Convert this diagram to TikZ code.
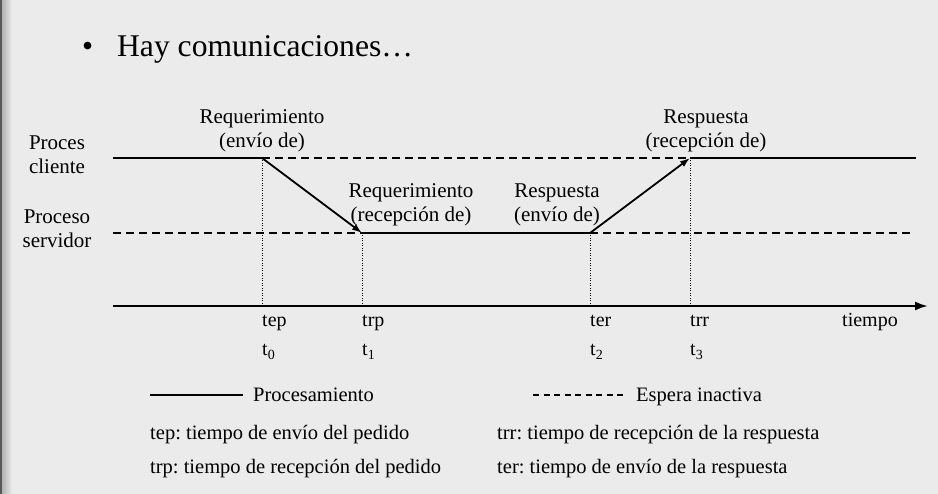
\documentclass[tikz,border=0pt]{standalone}
\usepackage{fontspec}
\setmainfont{Liberation Serif}
\frenchspacing
\usetikzlibrary{arrows.meta}
\definecolor{slidebg}{RGB}{235,235,235}

\begin{document}
\begin{tikzpicture}[x=1pt,y=-1pt,
        proc/.style={line width=1.8pt},
        idle/.style={line width=1.3pt,dash pattern=on 8pt off 5pt},
        guia/.style={line width=0.9pt,dash pattern=on 1pt off 1.5pt},
        msg/.style={line width=1.8pt,-{Latex[length=10pt,width=7pt]}},
        eje/.style={line width=2.2pt,-{Latex[length=13pt,width=9pt]}},
        lbl/.style={align=center,inner sep=0pt,font=\fontsize{21}{24}\selectfont},
        tick/.style={anchor=base west,inner sep=0pt,font=\fontsize{20}{24}\selectfont},
        leyenda/.style={anchor=base west,inner sep=0pt,font=\fontsize{20.5}{24}\selectfont}]
            % fondo de la diapositiva
            \fill [slidebg] (0,0) rectangle (938,494);
            \shade [left color=gray!60, right color=slidebg] (2,0) rectangle (12,494);
            \fill [gray!70!black] (0,0) rectangle (2,494);
            \useasboundingbox (0,0) rectangle (938,494);

            \node [anchor=base west,inner sep=0pt,font=\fontsize{31.6}{38}\selectfont] (titulo) at (82,57) {\makebox[35pt][l]{•}Hay comunicaciones…};

            \node [lbl,anchor=south] (cliente) at (57,174) {Proces\\cliente};
            \node [lbl,anchor=south] (servidor) at (57,248) {Proceso\\servidor};

            \coordinate (cliIni) at (113,158);
            \coordinate (cliFin) at (916,158);
            \coordinate (srvIni) at (113,233);
            \coordinate (srvFin) at (912,233);
            \coordinate (tep) at (262,158);
            \coordinate (trp) at (362,233);
            \coordinate (ter) at (590,233);
            \coordinate (trr) at (690,158);
            \coordinate (ejeIni) at (113,306);
            \coordinate (ejeFin) at (928,306);

            \node [lbl,anchor=south] (reqEnv) at (262,152) {Requerimiento\\(envío de)};
            \node [lbl,anchor=south] (reqRec) at (411,226) {Requerimiento\\(recepción de)};
            \node [lbl,anchor=south] (resEnv) at (557,226) {Respuesta\\(envío de)};
            \node [lbl,anchor=south] (resRec) at (706,152) {Respuesta\\(recepción de)};

            \draw [proc] (cliIni) -- (tep);
            \draw [idle] (tep) -- (trr);
            \draw [proc] (trr) -- (cliFin);
            \draw [idle] (srvIni) -- (trp);
            \draw [proc] (trp) -- (ter);
            \draw [idle] (ter) -- (srvFin);
            \draw [msg] (tep) -- (trp);
            \draw [msg] (ter) -- (trr);
            \draw [guia] (tep) -- (tep |- ejeIni);
            \draw [guia] (trp) -- (trp |- ejeIni);
            \draw [guia] (ter) -- (ter |- ejeIni);
            \draw [guia] (trr) -- (trr |- ejeIni);
            \draw [eje] (ejeIni) -- (ejeFin);

            \node [tick] (nomTep) at (262,327) {tep};
            \node [tick] (nomTrp) at (362,327) {trp};
            \node [tick] (nomTer) at (590,327) {ter};
            \node [tick] (nomTrr) at (690,327) {trr};
            \node [tick] (tiempo) at (842,327) {tiempo};
            \node [tick] (t0) at (262,356) {t\textsubscript{0}};
            \node [tick] (t1) at (362,356) {t\textsubscript{1}};
            \node [tick] (t2) at (590,356) {t\textsubscript{2}};
            \node [tick] (t3) at (690,356) {t\textsubscript{3}};

            % leyenda
            \coordinate (procIni) at (150,395);
            \coordinate (procFin) at (243,395);
            \coordinate (esperaIni) at (533,395);
            \coordinate (esperaFin) at (627,395);
            \draw [line width=1.5pt] (procIni) -- (procFin);
            \draw [line width=1.2pt,dash pattern=on 6pt off 4.5pt] (esperaIni) -- (esperaFin);
            \node [leyenda] (procTxt) at (253,402) {Procesamiento};
            \node [leyenda] (esperaTxt) at (636,402) {Espera inactiva};
            \node [leyenda] (defTep) at (150,439) {tep: tiempo de envío del pedido};
            \node [leyenda] (defTrp) at (150,474) {trp: tiempo de recepción del pedido};
            \node [leyenda] (defTrr) at (497,439) {trr: tiempo de recepción de la respuesta};
            \node [leyenda] (defTer) at (497,474) {ter: tiempo de envío de la respuesta};
        \end{tikzpicture}
\end{document}
